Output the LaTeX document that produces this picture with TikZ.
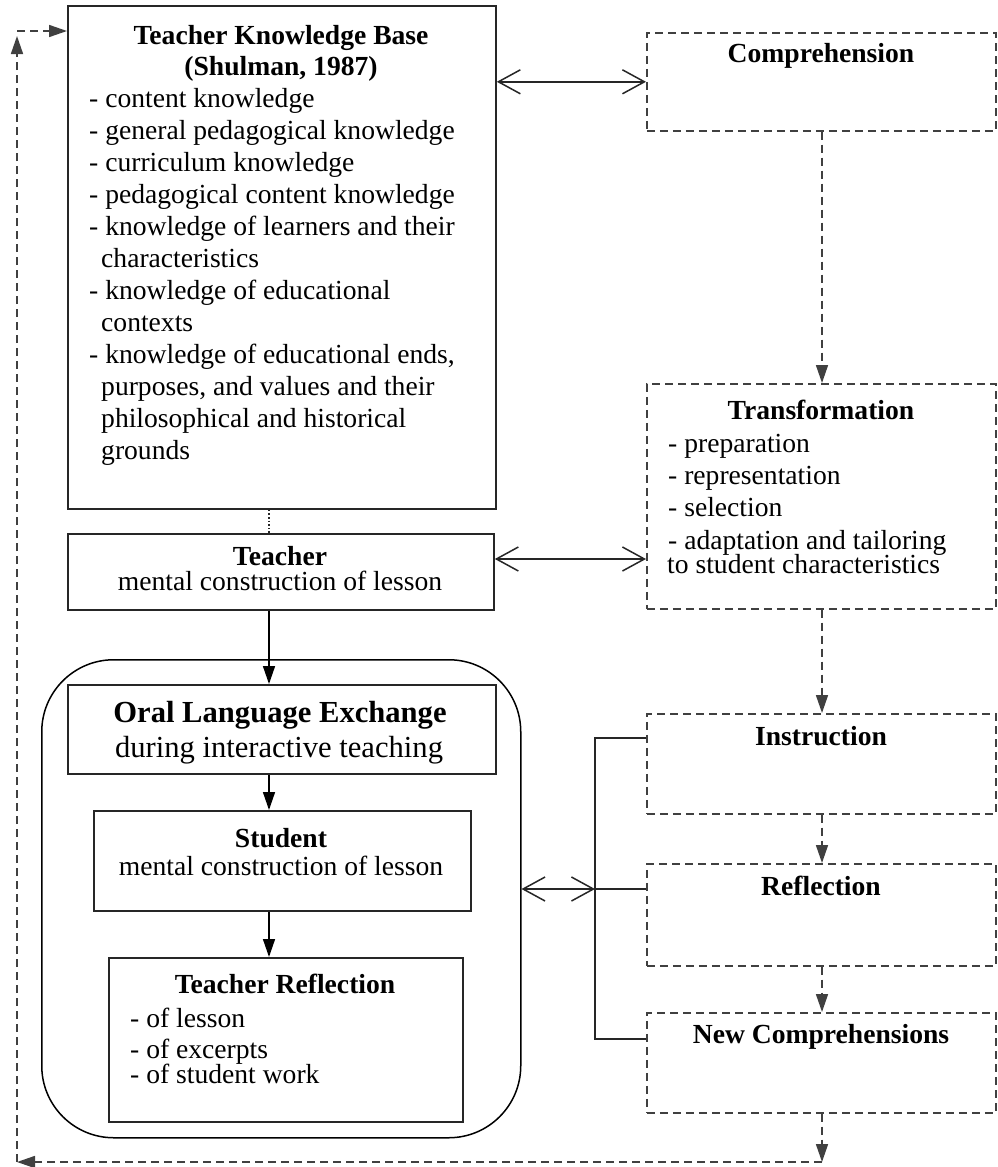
\documentclass[tikz,border=0pt]{standalone}
\usepackage{fontspec}
\setmainfont{Liberation Serif}
\usetikzlibrary{arrows.meta}
\newcommand\tsz{\fontsize{27.6}{32}\selectfont}
\newcommand\osz{\fontsize{30.6}{35}\selectfont}
\tikzset{
  solidbox/.style={draw=black!85, line width=1.8pt, inner sep=0pt, anchor=north west},
  dashbox/.style={draw=black!75, line width=1.6pt, dash pattern=on 8pt off 5pt, inner sep=0pt, anchor=north west},
  txt/.style={inner sep=0pt, font=\tsz, text=black},
  ctxt/.style={txt, anchor=base},
  ltxt/.style={txt, anchor=base west},
  solidarrow/.style={draw=black, line width=1.5pt, -{Triangle[length=18pt,width=12pt]}},
  dasharrow/.style={draw=black!75, line width=1.6pt, dash pattern=on 8pt off 5pt, -{Triangle[length=18pt,width=12pt]}},
  dblarrow/.style={draw=black!85, line width=1.5pt, {Straight Barb[length=22pt,width=24pt]}-{Straight Barb[length=22pt,width=24pt]}},
  bracketline/.style={draw=black!85, line width=1.6pt}
}
\begin{document}
\begin{tikzpicture}[x=1pt,y=-1pt]
\useasboundingbox (0,0) rectangle (997,1167);
\fill[white] (0,0) rectangle (997,1167);

% ---------- left column boxes ----------
\node[solidbox, minimum width=428pt, minimum height=503pt] (tkb) at (67,5) {};
\node[ctxt, font=\tsz\bfseries] (tkbt1) at (281,44) {Teacher Knowledge Base};
\node[ctxt, font=\tsz\bfseries] (tkbt2) at (281,75) {(Shulman, 1987)};
\node[ltxt] (tkb1) at (89,107) {- content knowledge};
\node[ltxt] (tkb2) at (89,139) {- general pedagogical knowledge};
\node[ltxt] (tkb3) at (89,171) {- curriculum knowledge};
\node[ltxt] (tkb4) at (89,203) {- pedagogical content knowledge};
\node[ltxt] (tkb5) at (89,235) {- knowledge of learners and their};
\node[ltxt] (tkb6) at (101,267) {characteristics};
\node[ltxt] (tkb7) at (89,299) {- knowledge of educational};
\node[ltxt] (tkb8) at (101,331) {contexts};
\node[ltxt] (tkb9) at (89,363) {- knowledge of educational ends,};
\node[ltxt] (tkb10) at (101,395) {purposes, and values and their};
\node[ltxt] (tkb11) at (101,427) {philosophical and historical};
\node[ltxt] (tkb12) at (101,459) {grounds};

\node[solidbox, minimum width=426pt, minimum height=76pt] (teacher) at (67,533) {};
\node[ctxt, font=\tsz\bfseries] (teachert) at (280,565) {Teacher};
\node[ctxt] (teacherl) at (280,590) {mental construction of lesson};

\node[draw=black, line width=1.5pt, rounded corners=72pt, inner sep=0pt, anchor=north west,
      minimum width=479pt, minimum height=478pt] (olebg) at (41,659) {};

\node[solidbox, minimum width=428pt, minimum height=89pt] (ole) at (67,684) {};
\node[ctxt, font=\osz\bfseries] (olet) at (280,722) {Oral Language Exchange};
\node[ctxt, font=\osz] (olel) at (279,757) {during interactive teaching};

\node[solidbox, minimum width=377pt, minimum height=100pt] (student) at (93,810) {};
\node[ctxt, font=\tsz\bfseries] (studentt) at (281,847) {Student};
\node[ctxt] (studentl) at (281,875) {mental construction of lesson};

\node[solidbox, minimum width=354pt, minimum height=164pt] (trefl) at (108,957) {};
\node[ctxt, font=\tsz\bfseries] (treflt) at (285,993) {Teacher Reflection};
\node[ltxt] (trefl1) at (130,1027) {- of lesson};
\node[ltxt] (trefl2) at (130,1058) {- of excerpts};
\node[ltxt] (trefl3) at (130,1083) {- of student work};

% ---------- right column boxes ----------
\node[dashbox, minimum width=349pt, minimum height=98pt] (comp) at (646,32) {};
\node[ctxt, font=\tsz\bfseries] (compt) at (821,62) {Comprehension};

\node[dashbox, minimum width=349pt, minimum height=225pt] (trans) at (646,383) {};
\node[ctxt, font=\tsz\bfseries] (transt) at (821,419) {Transformation};
\node[ltxt] (trans1) at (668,452) {- preparation};
\node[ltxt] (trans2) at (668,484) {- representation};
\node[ltxt] (trans3) at (668,516) {- selection};
\node[ltxt] (trans4) at (668,549) {- adaptation and tailoring};
\node[ltxt] (trans5) at (667,573) {to student characteristics};

\node[dashbox, minimum width=349pt, minimum height=100pt] (instr) at (646,713) {};
\node[ctxt, font=\tsz\bfseries] (instrt) at (821,745) {Instruction};

\node[dashbox, minimum width=349pt, minimum height=102pt] (refl) at (646,863) {};
\node[ctxt, font=\tsz\bfseries] (reflt) at (821,895) {Reflection};

\node[dashbox, minimum width=349pt, minimum height=100pt] (newc) at (646,1012) {};
\node[ctxt, font=\tsz\bfseries] (newct) at (821,1043) {New Comprehensions};

% ---------- helper coordinates ----------
\coordinate (ax) at (269,0);
\coordinate (rx) at (822,0);
\coordinate (brk) at (595,889);
\coordinate (fbr) at (822,1162);
\coordinate (fbl) at (17,1162);
\coordinate (fbtop) at (17,36);
\coordinate (fbt) at (17,31);

% ---------- left column connectors ----------
\draw[black!85, line width=1.6pt, dotted] (ax |- tkb.south) -- (ax |- teacher.north);
\draw[solidarrow] (ax |- teacher.south) -- (ax |- ole.north);
\draw[solidarrow] (ax |- ole.south) -- (ax |- student.north);
\draw[solidarrow] (ax |- student.south) -- (ax |- trefl.north);

% ---------- right column connectors ----------
\draw[dasharrow] (rx |- comp.south) -- (rx |- trans.north);
\draw[dasharrow] (rx |- trans.south) -- (rx |- instr.north);
\draw[dasharrow] (rx |- instr.south) -- (rx |- refl.north);
\draw[dasharrow] (rx |- refl.south) -- (rx |- newc.north);
\draw[dasharrow] (rx |- newc.south) -- (fbr);

% ---------- feedback loop ----------
\draw[dasharrow] (fbr) -- (fbl);
\draw[dasharrow] (fbl) -- (fbtop);
\draw[dasharrow] (fbt) -- (tkb.west |- fbt);

% ---------- double arrows ----------
\draw[dblarrow] (comp.west -| tkb.east) -- (comp.west);
\draw[dblarrow] (teacher.east |- 0,559) -- (trans.west |- 0,559);
\draw[dblarrow] (olebg.east |- brk) -- (brk);

% ---------- bracket ----------
\draw[bracketline] (instr.west |- 0,738) -- (brk |- 0,738) -- (brk |- 0,1039) -- (newc.west |- 0,1039);
\draw[bracketline] (brk) -- (refl.west |- brk);

\end{tikzpicture}
\end{document}
